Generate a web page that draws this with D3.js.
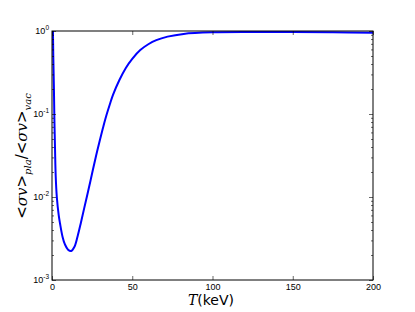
<!DOCTYPE html>
<html>
<head>
<meta charset="utf-8">
<script src="https://cdn.jsdelivr.net/npm/d3@7.9.0/dist/d3.min.js"></script>
<style>
  body { margin: 0; background: #fff; }
  svg { font-family: "DejaVu Sans", sans-serif; }
  .tick text { font-size: 9px; fill: #000; }
  .domain { display: none; }
</style>
</head>
<body>
<svg id="chart" width="415" height="312"></svg>
<script>
// temperature (keV) and rate ratio
const temps = [0.3, 0.5, 0.8, 1.2, 1.5, 1.9, 2.3, 3.0, 4.2, 5, 6.6, 8, 10, 12, 14, 16, 18, 20, 22.5, 25, 27.5, 30, 32, 34, 36, 38, 42, 46, 50, 55, 60, 65, 72, 82, 100, 125, 150, 175, 200];
const ratio = [3.0, 1.5, 0.5, 0.2, 0.085, 0.037, 0.018, 0.010, 0.0060, 0.0048, 0.0033, 0.0027, 0.00232, 0.00224, 0.00251, 0.00339, 0.0049, 0.00724, 0.0117, 0.0193, 0.0316, 0.0501, 0.0708, 0.0977, 0.130, 0.170, 0.257, 0.359, 0.462, 0.589, 0.692, 0.776, 0.855, 0.923, 0.964, 0.973, 0.973, 0.964, 0.951];
const xTicks = [0, 50, 100, 150, 200];
const yDecades = [-3, -2, -1, 0];

const margin = { left: 52, right: 42, top: 31, bottom: 32 };
const width = 415, height = 312;
const svg = d3.select('#chart');

const x = d3.scaleLinear().domain([0, 200]).range([margin.left, width - margin.right]);
const y = d3.scaleLog().domain([1e-3, 1]).range([height - margin.bottom, margin.top]);

// minor ticks for log axis
const minor = [];
yDecades.slice(0, -1).forEach((e) => {
    for (let k = 2; k < 10; k++) minor.push(k * Math.pow(10, e));
});

svg.append('clipPath').attr('id', 'plotclip')
    .append('rect')
    .attr('x', x(0)).attr('y', y(1))
    .attr('width', x(200) - x(0)).attr('height', y(1e-3) - y(1));

const line = d3.line()
    .x((d) => x(d[0]))
    .y((d) => y(d[1]))
    .curve(d3.curveCatmullRom.alpha(0.5));

svg.append('path')
    .datum(temps.map((t, i) => [t, ratio[i]]))
    .attr('clip-path', 'url(#plotclip)')
    .attr('d', line)
    .attr('fill', 'none')
    .attr('stroke', '#0000ff')
    .attr('stroke-width', 2);

// axes, ticks pointing inward like matplotlib
svg.append('g')
    .attr('transform', `translate(0,${y(1e-3)})`)
    .call(d3.axisBottom(x).tickValues(xTicks).tickSize(-4).tickPadding(4).tickFormat(d3.format('d')));
svg.append('g')
    .attr('transform', `translate(0,${y(1)})`)
    .call(d3.axisTop(x).tickValues(xTicks).tickSize(-4).tickFormat(''));

const left = svg.append('g')
    .attr('transform', `translate(${x(0)},0)`)
    .call(d3.axisLeft(y).tickValues(yDecades.map((e) => Math.pow(10, e))).tickSize(-4).tickPadding(5).tickFormat(''));
svg.append('g')
    .attr('transform', `translate(${x(0)},0)`)
    .call(d3.axisLeft(y).tickValues(minor).tickSize(-2).tickFormat(''));
svg.append('g')
    .attr('transform', `translate(${x(200)},0)`)
    .call(d3.axisRight(y).tickValues(yDecades.map((e) => Math.pow(10, e))).tickSize(-4).tickFormat(''));
svg.append('g')
    .attr('transform', `translate(${x(200)},0)`)
    .call(d3.axisRight(y).tickValues(minor).tickSize(-2).tickFormat(''));

svg.selectAll('.tick line').attr('stroke', '#000').attr('stroke-width', 0.6);

// decade labels with superscript
left.selectAll('.tick').each(function(d) {
    const t = d3.select(this).select('text');
    t.text('').attr('x', -3);
    t.append('tspan').text('10');
    t.append('tspan').attr('dy', -4).attr('font-size', '6.5px').text(Math.round(Math.log10(d)));
});

// frame
svg.append('rect')
    .attr('x', x(0)).attr('y', y(1))
    .attr('width', x(200) - x(0)).attr('height', y(1e-3) - y(1))
    .attr('fill', 'none').attr('stroke', '#000').attr('stroke-width', 1);

// axis labels
const xl = svg.append('text')
    .attr('x', 211).attr('y', 305)
    .attr('text-anchor', 'middle')
    .attr('font-size', '14px');
xl.append('tspan').attr('font-style', 'italic').attr('font-family', 'DejaVu Serif').text('T');
xl.append('tspan').text('(keV)');

const yl = svg.append('text')
    .attr('transform', 'translate(27,156) rotate(-90)')
    .attr('text-anchor', 'middle')
    .attr('font-size', '15px');
yl.append('tspan').text('<');
yl.append('tspan').attr('font-style', 'italic').attr('font-family', 'DejaVu Serif').text('σv');
yl.append('tspan').text('>');
yl.append('tspan').attr('font-style', 'italic').attr('font-family', 'DejaVu Serif').attr('font-size', '10px').attr('dy', 4).text('pla');
yl.append('tspan').attr('dy', -4).text('/<');
yl.append('tspan').attr('font-style', 'italic').attr('font-family', 'DejaVu Serif').text('σv');
yl.append('tspan').text('>');
yl.append('tspan').attr('font-style', 'italic').attr('font-family', 'DejaVu Serif').attr('font-size', '10px').attr('dy', 4).text('vac');
</script>
</body>
</html>
